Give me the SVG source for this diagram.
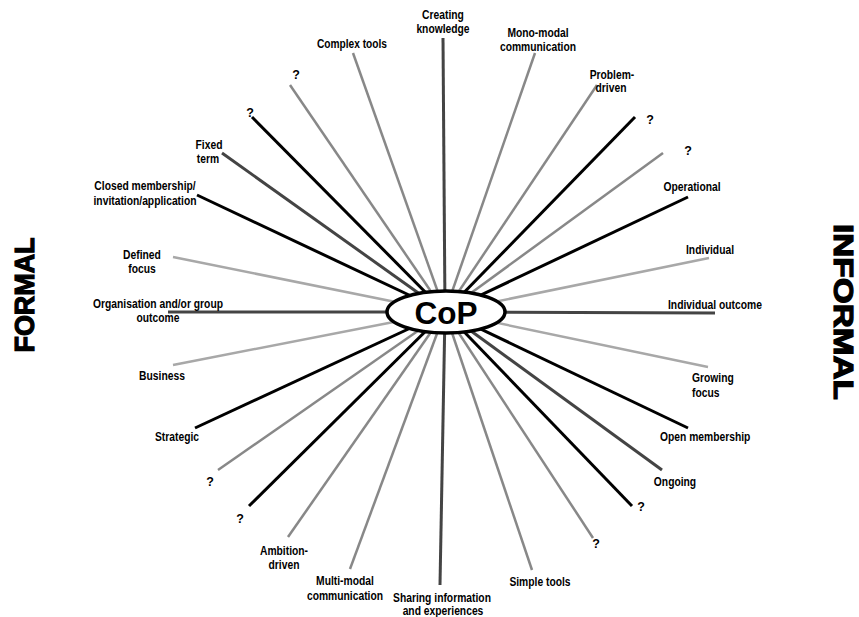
<svg xmlns="http://www.w3.org/2000/svg" width="859" height="617" viewBox="0 0 859 617">
<style>
.lbl{font-family:"Liberation Sans Narrow","Arial Narrow","Liberation Sans",Arial,sans-serif;font-weight:bold;font-size:12.5px;fill:#000}
.big{font-family:"Liberation Sans",Arial,sans-serif;font-weight:900;font-size:27px;fill:#000;stroke:#000;stroke-width:1.2}
.lt{stroke:#a8a8a8;stroke-width:2.5}
.md{stroke:#888;stroke-width:2.5}
.dk{stroke:#444;stroke-width:3}
.bk{stroke:#000;stroke-width:3}
</style>
<rect width="859" height="617" fill="#fff"/>
<g id="connectors" stroke-linecap="butt">
<line class="dk" x1="445" y1="312" x2="443" y2="38"/>
<line class="md" x1="445" y1="312" x2="535" y2="53"/>
<line class="md" x1="445" y1="312" x2="597" y2="85"/>
<line class="bk" x1="445" y1="312" x2="635" y2="117"/>
<line class="md" x1="445" y1="312" x2="663" y2="153"/>
<line class="bk" x1="445" y1="312" x2="688" y2="197"/>
<line class="lt" x1="445" y1="312" x2="709" y2="258"/>
<line class="dk" x1="445" y1="312" x2="715" y2="313"/>
<line class="lt" x1="445" y1="312" x2="708" y2="367"/>
<line class="bk" x1="445" y1="312" x2="688" y2="428"/>
<line class="dk" x1="445" y1="312" x2="662" y2="470"/>
<line class="bk" x1="445" y1="312" x2="632" y2="506"/>
<line class="md" x1="445" y1="312" x2="593" y2="538"/>
<line class="md" x1="445" y1="312" x2="532" y2="570"/>
<line class="dk" x1="445" y1="312" x2="440" y2="585"/>
<line class="md" x1="445" y1="312" x2="350" y2="569"/>
<line class="md" x1="445" y1="312" x2="288" y2="537"/>
<line class="bk" x1="445" y1="312" x2="249" y2="506"/>
<line class="md" x1="445" y1="312" x2="218" y2="470"/>
<line class="bk" x1="445" y1="312" x2="195" y2="428"/>
<line class="lt" x1="445" y1="312" x2="173" y2="365"/>
<line class="dk" x1="445" y1="312" x2="168" y2="312"/>
<line class="lt" x1="445" y1="312" x2="173" y2="257"/>
<line class="bk" x1="445" y1="312" x2="197" y2="195"/>
<line class="dk" x1="445" y1="312" x2="222" y2="153"/>
<line class="bk" x1="445" y1="312" x2="252" y2="117"/>
<line class="md" x1="445" y1="312" x2="290" y2="85"/>
<line class="md" x1="445" y1="312" x2="353" y2="53"/>
</g>
<g id="cop">
<ellipse cx="446" cy="312" rx="59" ry="21" fill="#fff" stroke="#000" stroke-width="3.5"/>
<text x="446" y="323.5" text-anchor="middle" font-family="Liberation Sans,Arial,sans-serif" font-weight="bold" font-size="31" textLength="63" lengthAdjust="spacingAndGlyphs">CoP</text>
</g>
<g id="formal"><text class="big" transform="translate(34,295) rotate(-90)" text-anchor="middle" textLength="115" lengthAdjust="spacingAndGlyphs">FORMAL</text></g>
<g id="informal"><text class="big" transform="translate(834,312) rotate(90)" text-anchor="middle" textLength="176" lengthAdjust="spacingAndGlyphs">INFORMAL</text></g>
<g class="lbl" text-anchor="middle">
<g id="n-creating"><text x="443" y="19" textLength="41.8" lengthAdjust="spacingAndGlyphs">Creating</text><text x="443" y="33" textLength="53.2" lengthAdjust="spacingAndGlyphs">knowledge</text></g>
<g id="n-mono"><text x="538" y="37" textLength="61.2" lengthAdjust="spacingAndGlyphs">Mono-modal</text><text x="538" y="51" textLength="76.1" lengthAdjust="spacingAndGlyphs">communication</text></g>
<g id="n-problem"><text x="612" y="79" textLength="44.6" lengthAdjust="spacingAndGlyphs">Problem-</text><text x="611" y="92" textLength="30.9" lengthAdjust="spacingAndGlyphs">driven</text></g>
<g id="n-q1"><text x="650" y="124">?</text></g>
<g id="n-q2"><text x="688" y="155">?</text></g>
<g id="n-operational"><text x="692" y="191" textLength="57.2" lengthAdjust="spacingAndGlyphs">Operational</text></g>
<g id="n-individual"><text x="710" y="254" textLength="48" lengthAdjust="spacingAndGlyphs">Individual</text></g>
<g id="n-indout"><text x="715" y="309" textLength="94" lengthAdjust="spacingAndGlyphs">Individual outcome</text></g>
<g id="n-growing"><text x="692" y="382" text-anchor="start" textLength="41.8" lengthAdjust="spacingAndGlyphs">Growing</text><text x="692" y="397" text-anchor="start" textLength="27.5" lengthAdjust="spacingAndGlyphs">focus</text></g>
<g id="n-open"><text x="660" y="441" text-anchor="start" textLength="90.4" lengthAdjust="spacingAndGlyphs">Open membership</text></g>
<g id="n-ongoing"><text x="675" y="486" textLength="42.3" lengthAdjust="spacingAndGlyphs">Ongoing</text></g>
<g id="n-q3"><text x="641" y="511">?</text></g>
<g id="n-q4"><text x="596" y="548">?</text></g>
<g id="n-simple"><text x="540" y="586" textLength="61.2" lengthAdjust="spacingAndGlyphs">Simple tools</text></g>
<g id="n-sharing"><text x="442" y="602" textLength="97.9" lengthAdjust="spacingAndGlyphs">Sharing information</text><text x="443" y="615" textLength="80.7" lengthAdjust="spacingAndGlyphs">and experiences</text></g>
<g id="n-multi"><text x="345" y="585" textLength="57.8" lengthAdjust="spacingAndGlyphs">Multi-modal</text><text x="345" y="600" textLength="76.1" lengthAdjust="spacingAndGlyphs">communication</text></g>
<g id="n-ambition"><text x="284" y="555" textLength="48" lengthAdjust="spacingAndGlyphs">Ambition-</text><text x="284" y="569" textLength="30.9" lengthAdjust="spacingAndGlyphs">driven</text></g>
<g id="n-q5"><text x="240" y="523">?</text></g>
<g id="n-q6"><text x="210" y="486">?</text></g>
<g id="n-strategic"><text x="177" y="441" textLength="44" lengthAdjust="spacingAndGlyphs">Strategic</text></g>
<g id="n-business"><text x="162" y="380" textLength="45.8" lengthAdjust="spacingAndGlyphs">Business</text></g>
<g id="n-organisation"><text x="158" y="308" textLength="130" lengthAdjust="spacingAndGlyphs">Organisation and/or group</text><text x="158" y="322" textLength="42.9" lengthAdjust="spacingAndGlyphs">outcome</text></g>
<g id="n-defined"><text x="142" y="259" textLength="37.8" lengthAdjust="spacingAndGlyphs">Defined</text><text x="142" y="273" textLength="27.5" lengthAdjust="spacingAndGlyphs">focus</text></g>
<g id="n-closed"><text x="145" y="190" textLength="101.3" lengthAdjust="spacingAndGlyphs">Closed membership/</text><text x="145" y="205" textLength="103" lengthAdjust="spacingAndGlyphs">invitation/application</text></g>
<g id="n-fixed"><text x="209" y="149" textLength="26.9" lengthAdjust="spacingAndGlyphs">Fixed</text><text x="208" y="163" textLength="22.3" lengthAdjust="spacingAndGlyphs">term</text></g>
<g id="n-q7"><text x="250" y="117">?</text></g>
<g id="n-q8"><text x="296" y="79">?</text></g>
<g id="n-complex"><text x="352" y="48" textLength="70" lengthAdjust="spacingAndGlyphs">Complex tools</text></g>
</g>
</svg>
